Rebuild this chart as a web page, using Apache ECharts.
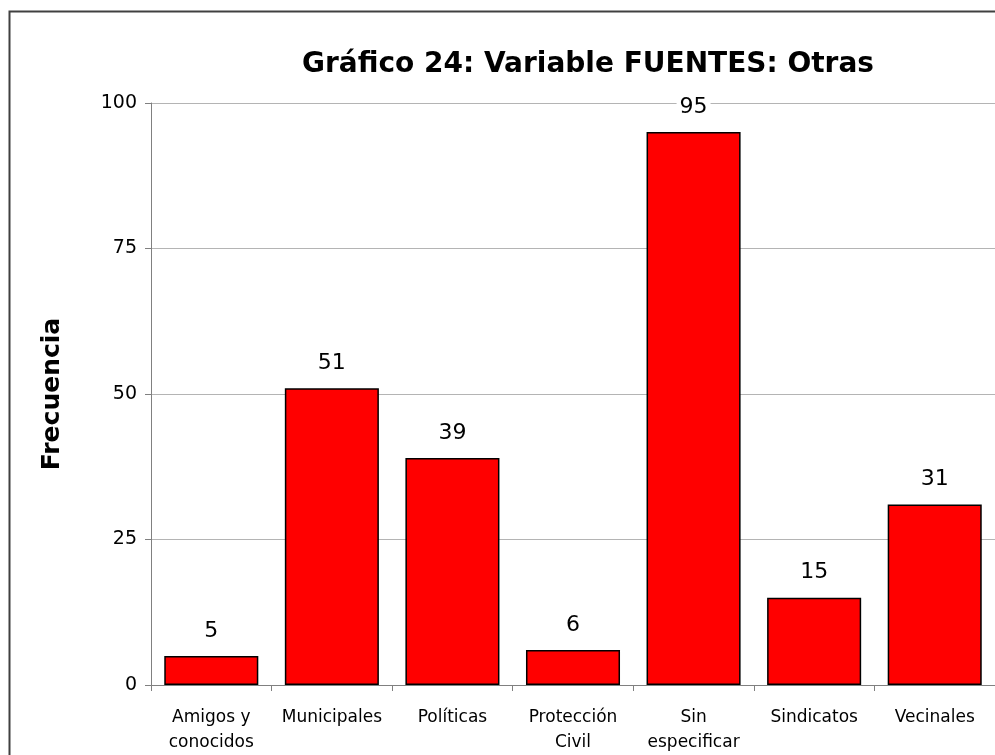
<!DOCTYPE html>
<html>
<head>
<meta charset="utf-8">
<script src="https://cdn.jsdelivr.net/npm/echarts@6/dist/echarts.min.js"></script>
<style>
  html, body { margin: 0; padding: 0; background: #fff; }
  #chart { width: 995px; height: 755px; }
</style>
</head>
<body>
<div id="chart"></div>
<script>
// datos del gráfico
const categorias = ['Amigos y\nconocidos', 'Municipales', 'Políticas', 'Protección\nCivil', 'Sin\nespecificar', 'Sindicatos', 'Vecinales']
const frecuencias = [5, 51, 39, 6, 95, 15, 31]
const ticksY = [0, 25, 50, 75, 100]

const chart = echarts.init(document.getElementById('chart'))

const option = {
  animation: false,
  backgroundColor: '#fff',
  title: {
    text: 'Gráfico 24: Variable FUENTES: Otras',
    left: 583,
    textAlign: 'center',
    top: 46,
    textStyle: { fontFamily: 'DejaVu Sans', fontWeight: 'bold', fontSize: 28, color: '#000' }
  },
  graphic: [{
    type: 'rect',
    shape: { x: 9.5, y: 11.5, width: 1000, height: 1000 },
    style: { fill: 'none', stroke: '#404040', lineWidth: 2 },
    silent: true
  }],
  grid: { left: 151, right: -2, top: 103, bottom: 68 },
  xAxis: {
    type: 'category',
    data: categorias,
    axisLine: { lineStyle: { color: '#808080', width: 1 } },
    axisTick: { show: true, length: 6, alignWithLabel: false, lineStyle: { color: '#808080' } },
    axisLabel: {
      interval: 0, margin: 20, color: '#000',
      fontFamily: 'DejaVu Sans', fontSize: 17, lineHeight: 25
    }
  },
  yAxis: {
    type: 'value',
    min: ticksY[0],
    max: ticksY[ticksY.length - 1],
    interval: 25,
    name: 'Frecuencia',
    nameLocation: 'middle',
    nameRotate: 90,
    nameGap: 86,
    nameTextStyle: { fontFamily: 'DejaVu Sans', fontWeight: 'bold', fontSize: 25, color: '#000' },
    axisLine: { show: true, lineStyle: { color: '#808080', width: 1 } },
    axisTick: { show: true, length: 6, lineStyle: { color: '#808080' } },
    axisLabel: { margin: 14, color: '#000', fontFamily: 'DejaVu Sans', fontSize: 19 },
    splitLine: { lineStyle: { color: '#b4b4b4', width: 1 } }
  },
  series: [{
    type: 'bar',
    data: frecuencias,
    barCategoryGap: '22%',
    itemStyle: { color: '#ff0000', borderColor: '#000', borderWidth: 1.5 },
    label: {
      show: true,
      position: 'top',
      distance: 14,
      color: '#000',
      fontFamily: 'DejaVu Sans',
      fontSize: 22,
      backgroundColor: '#fff',
      padding: [0, 3]
    }
  }]
}

chart.setOption(option)
</script>
</body>
</html>
